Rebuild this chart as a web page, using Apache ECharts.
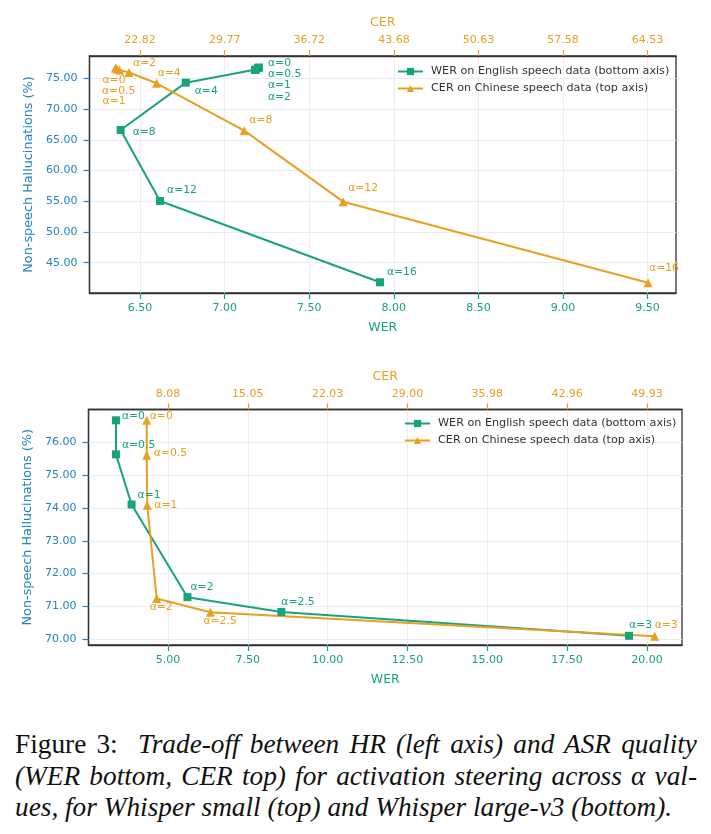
<!DOCTYPE html>
<html>
<head>
<meta charset="utf-8">
<script src="https://cdn.jsdelivr.net/npm/echarts@6/dist/echarts.min.js"></script>
<style>
  html, body { margin: 0; padding: 0; background: #fff; width: 711px; height: 834px; overflow: hidden; }
  #chart { position: absolute; left: 0; top: 0; width: 711px; height: 705px; }
  #caption { position: absolute; left: 15px; top: 729px; width: 682px; font-family: 'Liberation Serif', 'Times New Roman', serif; font-size: 27.3px; line-height: 31.5px; color: #111; }
  #caption .j { text-align: justify; text-align-last: justify; }
  #caption i { font-style: italic; }
</style>
</head>
<body>
<div id="chart"></div>
<div id="caption">
  <div class="j">Figure 3:&nbsp; <i>Trade-off between HR (left axis) and ASR quality</i></div>
  <div class="j"><i>(WER bottom, CER top) for activation steering across α val-</i></div>
  <div><i>ues, for Whisper small (top) and Whisper large-v3 (bottom).</i></div>
</div>
<script>
  // ---- data: Whisper small (top panel)
  const topAlpha = [0, 0.5, 1, 2, 4, 8, 12, 16];
  const topWer = [7.203, 7.197, 7.185, 7.179, 6.77, 6.385, 6.618, 7.918];
  const topWerHr = [76.76, 76.68, 76.43, 76.35, 74.29, 66.59, 55.04, 41.81];
  const topCer = [20.80, 20.92, 21.13, 21.91, 24.18, 31.38, 39.51, 64.57];
  const topCerHr = [76.68, 76.52, 76.35, 75.95, 74.19, 66.48, 54.93, 41.75];
  const topWerTicks = [6.5, 7.0, 7.5, 8.0, 8.5, 9.0, 9.5];
  const topCerTicks = [22.82, 29.77, 36.72, 43.68, 50.63, 57.58, 64.53];
  const topHrTicks = [45, 50, 55, 60, 65, 70, 75];

  // ---- data: Whisper large-v3 (bottom panel)
  const botAlpha = [0, 0.5, 1, 2, 2.5, 3];
  const botWer = [3.37, 3.37, 3.86, 5.61, 8.55, 19.44];
  const botWerHr = [76.68, 75.64, 74.11, 71.28, 70.83, 70.10];
  const botCer = [6.22, 6.22, 6.27, 7.09, 11.79, 50.61];
  const botCerHr = [76.68, 75.61, 74.09, 71.24, 70.82, 70.09];
  const botWerTicks = [5, 7.5, 10, 12.5, 15, 17.5, 20];
  const botCerTicks = [8.08, 15.05, 22.03, 29.00, 35.98, 42.96, 49.93];
  const botHrTicks = [70, 71, 72, 73, 74, 75, 76];

  const werName = 'WER on English speech data (bottom axis)';
  const cerName = 'CER on Chinese speech data (top axis)';

  // ---- layout (axis extents, label offsets)
  const topWerRange = [6.201, 9.668];
  const topHrRange = [40.07, 78.63];
  const botWerRange = [2.51, 21.10];
  const botHrRange = [69.82, 77.01];

  const topWerLabelOffset = [[9, -4], [10, 6], [12, 16], [13, 27], [9, 9], [12, 2], [7, -11], [7, -10]];
  const topCerLabelOffset = [[-13, 12], [-15, 22], [-17, 31], [4, -9], [1, -10], [5, -10], [5, -13], [1, -14]];
  const botWerLabelOffset = [[6, -4], [6, -9], [6, -9], [3, -10], [0, -10], [0, -11]];
  const botCerLabelOffset = [[3, -4], [7, -2], [7, 0], [-7, 9], [-7, 9], [0, -11]];

  const GREEN = '#17a37b';
  const ORANGE = '#e89f22';
  const BLUE = '#2283c4';
  const FONT = 'DejaVu Sans, sans-serif';

  // top axis is a linear relabelling of the bottom one, ticks aligned
  function linkedRange(werTicks, cerTicks, werRange) {
    const k = (cerTicks[cerTicks.length - 1] - cerTicks[0]) / (werTicks[werTicks.length - 1] - werTicks[0]);
    return werRange.map(w => cerTicks[0] + (w - werTicks[0]) * k);
  }

  function makeData(xs, ys, alphas, offsets, color) {
    return xs.map((x, i) => ({
      value: [x, ys[i]],
      label: {
        show: true,
        position: 'inside',
        align: 'left',
        verticalAlign: 'middle',
        offset: offsets[i],
        formatter: 'α=' + alphas[i],
        color: color,
        fontSize: 10.8,
        fontFamily: FONT
      }
    }));
  }

  function xAxis(gridIndex, position, range, ticks, color, name, nameGap) {
    return {
      type: 'value',
      gridIndex: gridIndex,
      position: position,
      min: range[0],
      max: range[1],
      name: name,
      nameLocation: 'middle',
      nameGap: nameGap,
      nameTextStyle: { color: color, fontSize: 12.5, fontFamily: FONT },
      axisLine: { show: true, lineStyle: { color: '#333', width: 1.3 } },
      axisTick: { show: true, length: 6, customValues: ticks, lineStyle: { color: color, width: 1.2 } },
      axisLabel: {
        customValues: ticks, margin: 10, color: color, fontSize: 11, fontFamily: FONT,
        formatter: v => v.toFixed(2)
      },
      splitLine: { show: true, lineStyle: { color: '#ececec', width: 1 } }
    };
  }

  function yAxis(gridIndex, range, ticks) {
    return {
      type: 'value',
      gridIndex: gridIndex,
      min: range[0],
      max: range[1],
      name: 'Non-speech Hallucinations (%)',
      nameLocation: 'middle',
      nameGap: 46,
      nameTextStyle: { color: BLUE, fontSize: 12.8, fontFamily: FONT },
      axisLine: { show: true, lineStyle: { color: '#333', width: 1.3 } },
      axisTick: { show: true, length: 6, customValues: ticks, lineStyle: { color: BLUE, width: 1.2 } },
      axisLabel: {
        customValues: ticks, margin: 12, color: BLUE, fontSize: 11, fontFamily: FONT,
        formatter: v => v.toFixed(2)
      },
      splitLine: { show: true, lineStyle: { color: '#ececec', width: 1 } }
    };
  }

  function lineSeries(name, xi, yi, data, color, symbol, size) {
    return {
      name: name,
      type: 'line',
      xAxisIndex: xi,
      yAxisIndex: yi,
      data: data,
      symbol: symbol,
      symbolSize: size,
      color: color,
      lineStyle: { color: color, width: 2 },
      itemStyle: { color: color },
      clip: false,
      z: 3
    };
  }

  function legend(left, top) {
    return {
      orient: 'vertical',
      left: left,
      top: top,
      data: [werName, cerName],
      itemWidth: 25,
      itemHeight: 9,
      itemGap: 6,
      itemStyle: {},
      textStyle: { color: '#333', fontSize: 11.2, fontFamily: FONT, padding: [0, 0, 0, 3] },
      padding: 0
    };
  }

  const chart = echarts.init(document.getElementById('chart'), null, { renderer: 'canvas' });
  chart.setOption({
    animation: false,
    backgroundColor: '#fff',
    grid: [
      { left: 89.5, top: 56, width: 586.5, height: 237, show: true, borderColor: '#333', borderWidth: 1.3, outerBoundsMode: 'none' },
      { left: 88.5, top: 409.5, width: 593.5, height: 235.5, show: true, borderColor: '#333', borderWidth: 1.3, outerBoundsMode: 'none' }
    ],
    legend: [legend(397, 66), legend(404, 418)],
    xAxis: [
      xAxis(0, 'bottom', topWerRange, topWerTicks, GREEN, 'WER', 28),
      xAxis(0, 'top', linkedRange(topWerTicks, topCerTicks, topWerRange), topCerTicks, ORANGE, 'CER', 27),
      xAxis(1, 'bottom', botWerRange, botWerTicks, GREEN, 'WER', 28),
      xAxis(1, 'top', linkedRange(botWerTicks, botCerTicks, botWerRange), botCerTicks, ORANGE, 'CER', 26)
    ],
    yAxis: [yAxis(0, topHrRange, topHrTicks), yAxis(1, botHrRange, botHrTicks)],
    series: [
      lineSeries(werName, 0, 0, makeData(topWer, topWerHr, topAlpha, topWerLabelOffset, GREEN), GREEN, 'rect', 8),
      lineSeries(cerName, 1, 0, makeData(topCer, topCerHr, topAlpha, topCerLabelOffset, ORANGE), ORANGE, 'triangle', 9),
      lineSeries(werName, 2, 1, makeData(botWer, botWerHr, botAlpha, botWerLabelOffset, GREEN), GREEN, 'rect', 8),
      lineSeries(cerName, 3, 1, makeData(botCer, botCerHr, botAlpha, botCerLabelOffset, ORANGE), ORANGE, 'triangle', 9)
    ]
  });
</script>
</body>
</html>
